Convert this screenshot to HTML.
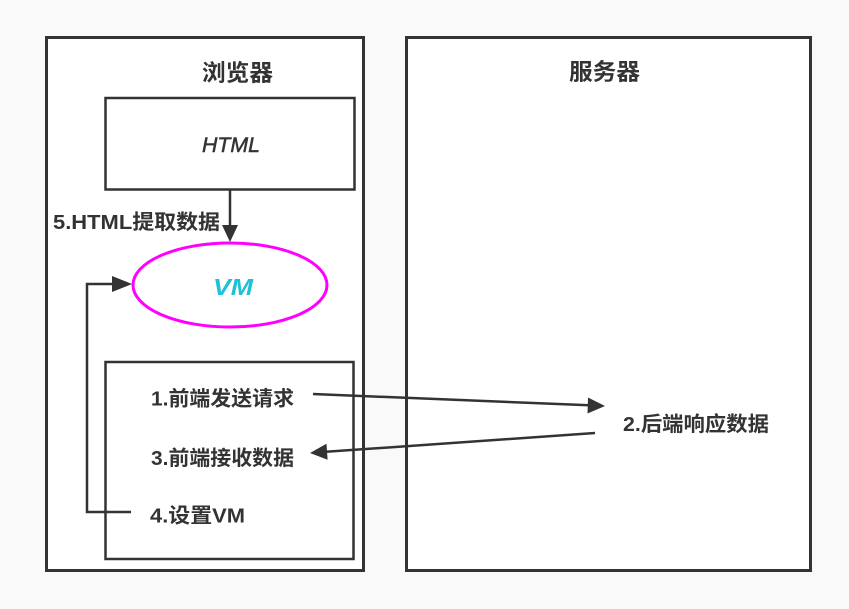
<!DOCTYPE html>
<html>
<head>
<meta charset="utf-8">
<style>
html,body{margin:0;padding:0;background:#f9f9f9;}
svg{display:block;}
text{font-family:"Liberation Sans","Noto Sans CJK SC",sans-serif;fill:#333;}
</style>
</head>
<body>
<svg width="849" height="609" viewBox="0 0 849 609" xmlns="http://www.w3.org/2000/svg">
  <rect x="0" y="0" width="849" height="609" fill="#f9f9f9"/>
  <!-- Browser box -->
  <rect x="46.5" y="37.5" width="317" height="533" fill="#fff" stroke="#333" stroke-width="3"/>
  <!-- Server box -->
  <rect x="406.5" y="37.5" width="404" height="533" fill="#fff" stroke="#333" stroke-width="3"/>

  <text x="202" y="80.5" font-size="23" font-weight="bold" textLength="71" lengthAdjust="spacingAndGlyphs">浏览器</text>
  <text x="569" y="79.5" font-size="23" font-weight="bold" textLength="71" lengthAdjust="spacingAndGlyphs">服务器</text>

  <!-- HTML box -->
  <rect x="105.5" y="98" width="249" height="91.5" fill="#fff" stroke="#333" stroke-width="2.5"/>
  <text x="202" y="152" font-size="21" font-style="italic" stroke="#333" stroke-width="0.5" textLength="58" lengthAdjust="spacingAndGlyphs">HTML</text>

  <!-- Arrow HTML -> VM -->
  <line x1="230" y1="190" x2="230" y2="226" stroke="#333" stroke-width="2.5"/>
  <polygon points="222,225 238,225 230,242" fill="#333"/>
  <text x="53" y="229" font-size="20.5" font-weight="bold" textLength="167" lengthAdjust="spacingAndGlyphs">5.HTML提取数据</text>

  <!-- VM ellipse -->
  <ellipse cx="230" cy="285" rx="97" ry="42" fill="#fff" stroke="#ff00ff" stroke-width="3"/>
  <text x="213" y="295" font-size="23" font-weight="bold" font-style="italic" textLength="40" lengthAdjust="spacingAndGlyphs" style="fill:#1ec1d9">VM</text>

  <!-- Inner box -->
  <rect x="105.5" y="362" width="248" height="197" fill="#fff" stroke="#333" stroke-width="2.5"/>
  <text x="151" y="405.5" font-size="20.5" font-weight="bold" textLength="143" lengthAdjust="spacingAndGlyphs">1.前端发送请求</text>
  <text x="151" y="465" font-size="20.5" font-weight="bold" textLength="143" lengthAdjust="spacingAndGlyphs">3.前端接收数据</text>
  <text x="150" y="522.5" font-size="20.5" font-weight="bold" textLength="95" lengthAdjust="spacingAndGlyphs">4.设置VM</text>

  <!-- Loop 4 -> VM -->
  <polyline points="131,512 87,512 87,284 114,284" fill="none" stroke="#333" stroke-width="2.5"/>
  <polygon points="112,276 112,292 132,284" fill="#333"/>

  <!-- Arrow 1 -> server -->
  <line x1="313" y1="394" x2="589" y2="405.3" stroke="#333" stroke-width="2.5"/>
  <polygon points="605,406 588,397.5 587.5,413.5" fill="#333"/>

  <!-- Arrow server -> 3 -->
  <line x1="595" y1="433" x2="326" y2="451.8" stroke="#333" stroke-width="2.5"/>
  <polygon points="310,453 326.5,443.8 327.6,459.8" fill="#333"/>

  <text x="623" y="431" font-size="20.5" font-weight="bold" textLength="146" lengthAdjust="spacingAndGlyphs">2.后端响应数据</text>
</svg>
</body>
</html>
